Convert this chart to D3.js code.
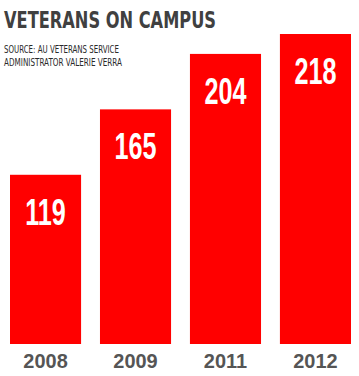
<!DOCTYPE html>
<html>
<head>
<meta charset="utf-8">
<script src="https://cdn.jsdelivr.net/npm/d3@7/dist/d3.min.js"></script>
<style>
  html, body { margin: 0; padding: 0; background: #fff; }
  svg { display: block; }
</style>
</head>
<body>
<div id="chart"></div>
<script>
const years = ["2008", "2009", "2011", "2012"];
const veterans = [119, 165, 204, 218];
const titleText = "VETERANS ON CAMPUS";
const sourceLines = ["SOURCE: AU VETERANS SERVICE", "ADMINISTRATOR VALERIE VERRA"];

const W = 359, H = 376;
const svg = d3.select("#chart").append("svg").attr("width", W).attr("height", H);

const cond = "'DejaVu Sans Condensed', 'DejaVu Sans', sans-serif";
const sans = "'Liberation Sans', Arial, sans-serif";

const x = d3.scaleBand().domain(years).range([10, 351]).paddingInner(0.21).paddingOuter(0);
const y = d3.scaleLinear().domain([0, d3.max(veterans)]).range([344, 34]);

const data = years.map((yr, i) => ({ year: yr, value: veterans[i] }));

// Title
svg.append("text")
  .attr("x", 4).attr("y", 28)
  .attr("font-family", cond).attr("font-weight", "bold")
  .attr("font-size", 23).attr("fill", "#404040")
  .attr("textLength", 212).attr("lengthAdjust", "spacingAndGlyphs")
  .text(titleText);

// Source
svg.selectAll("text.src").data(sourceLines).join("text")
  .attr("class", "src")
  .attr("x", 4).attr("y", (d, i) => 53 + i * 12.5)
  .attr("font-family", cond)
  .attr("font-size", 10.5).attr("fill", "#2a2a2a")
  .attr("textLength", (d, i) => i === 0 ? 115 : 118).attr("lengthAdjust", "spacingAndGlyphs")
  .text(d => d);

// Bars
svg.selectAll("rect.bar").data(data).join("rect")
  .attr("class", "bar")
  .attr("x", d => x(d.year))
  .attr("y", d => y(d.value))
  .attr("width", x.bandwidth())
  .attr("height", d => y(0) - y(d.value))
  .attr("fill", "#ff0000");

// Value labels
svg.selectAll("text.val").data(data).join("text")
  .attr("class", "val")
  .attr("transform", d => `translate(${x(d.year) + x.bandwidth() / 2},${y(d.value) + 50}) scale(0.68,1)`)
  .attr("text-anchor", "middle")
  .attr("font-family", sans).attr("font-weight", "bold")
  .attr("font-size", 37).attr("fill", "#ffffff")
  .text(d => d.value);

// Year labels
svg.selectAll("text.yr").data(data).join("text")
  .attr("class", "yr")
  .attr("transform", d => `translate(${x(d.year) + x.bandwidth() / 2},368) scale(0.95,1)`)
  .attr("text-anchor", "middle")
  .attr("font-family", sans).attr("font-weight", "bold")
  .attr("font-size", 21).attr("fill", "#555555")
  .text(d => d.year);
</script>
</body>
</html>
